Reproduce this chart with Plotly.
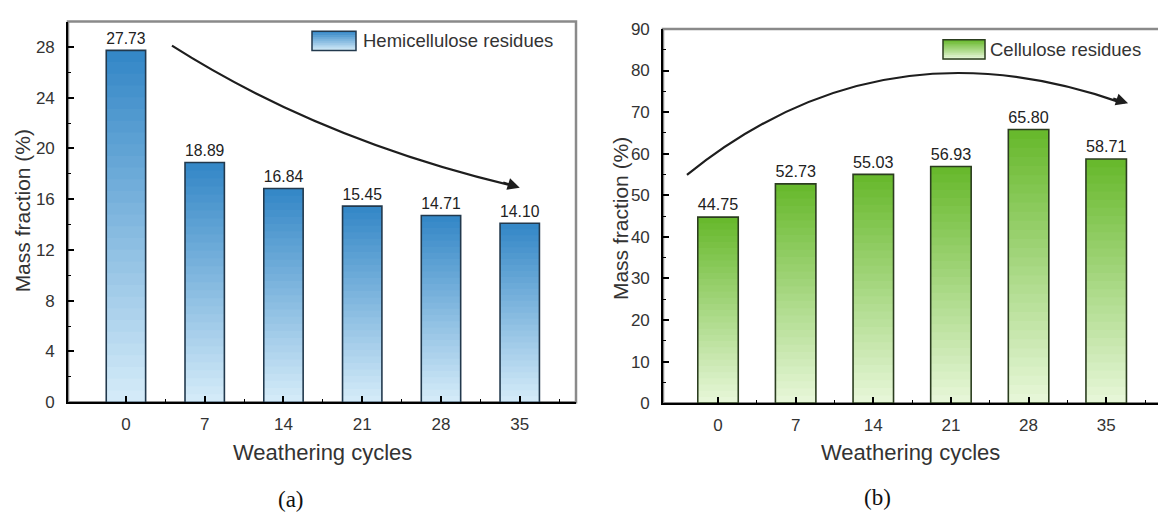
import plotly.graph_objects as go

# ---------------- data ----------------
cycles = [0, 7, 14, 21, 28, 35]
cycle_labels = ["0", "7", "14", "21", "28", "35"]
hemicellulose = [27.73, 18.89, 16.84, 15.45, 14.71, 14.10]
cellulose = [44.75, 52.73, 55.03, 56.93, 65.80, 58.71]
yticks_a = [0, 4, 8, 12, 16, 20, 24, 28]
yticks_b = [0, 10, 20, 30, 40, 50, 60, 70, 80, 90]
legend_a = "Hemicellulose residues"
legend_b = "Cellulose residues"

# ---------------- styling ----------------
W, H = 1158, 523
FONT = "Liberation Sans, Arial, sans-serif"
SERIF = "Liberation Serif, Times New Roman, serif"
TXT = "#333333"

BLUE_TOP = (50, 134, 198)
BLUE_BOT = (214, 236, 249)
BLUE_EDGE = "#22394d"
GREEN_TOP = (102, 184, 42)
GREEN_BOT = (232, 247, 218)
GREEN_EDGE = "#2b3d1f"
N_SEG = 30


def px(x):
    return x / W


def py(y):
    return 1 - y / H


def mix(c0, c1, t):
    return "rgb({},{},{})".format(*[round(a + (b - a) * t) for a, b in zip(c0, c1)])


fig = go.Figure()


def add_bars(values, xa, ya, bot, top, edge, width):
    # vertical gradient built from stacked (slightly overlapping) bar segments
    for k in range(N_SEG):
        t = (k + 0.5) / N_SEG
        seg = 1.0 if k == N_SEG - 1 else 1.8
        fig.add_trace(go.Bar(
            x=cycles, y=[v / N_SEG * seg for v in values],
            base=[v * k / N_SEG for v in values],
            width=width, marker=dict(color=mix(bot, top, t), line=dict(width=0)),
            xaxis=xa, yaxis=ya, showlegend=False, hoverinfo="skip"))
    fig.add_trace(go.Bar(
        x=cycles, y=values, width=width,
        marker=dict(color="rgba(0,0,0,0)", line=dict(color=edge, width=1.6)),
        text=[f"{v:.2f}" for v in values], textposition="outside",
        textfont=dict(family=FONT, size=18, color="#222222"),
        cliponaxis=False, xaxis=xa, yaxis=ya, showlegend=False))


add_bars(hemicellulose, "x", "y", BLUE_BOT, BLUE_TOP, BLUE_EDGE, 3.5)
add_bars(cellulose, "x2", "y2", GREEN_BOT, GREEN_TOP, GREEN_EDGE, 3.65)

minor_x = [(a + b) / 2 for a, b in zip(cycles[:-1], cycles[1:])] + [cycles[-1] + 3.5]

axis_common = dict(
    showline=True, linecolor="black", linewidth=1.6, mirror=False,
    ticks="inside", ticklen=6, tickwidth=1.5, tickcolor="black",
    showgrid=False, zeroline=False,
    tickfont=dict(family=FONT, size=17, color=TXT),
)

fig.update_layout(
    width=W, height=H,
    margin=dict(l=0, r=0, t=0, b=0),
    paper_bgcolor="white", plot_bgcolor="white",
    barmode="overlay", showlegend=False,
    xaxis=dict(domain=[px(68), px(576)], range=[-5.15, 40.0], anchor="y",
               tickvals=cycles, ticktext=cycle_labels, ticklabelstandoff=6,
               minor=dict(tickvals=minor_x, ticks="inside", ticklen=3, tickcolor="black", tickwidth=1.2),
               **axis_common),
    yaxis=dict(domain=[py(408), py(13)], range=[0, 30], anchor="x",
               tickvals=yticks_a, ticklabelstandoff=8,
               minor=dict(dtick=2, ticks="inside", ticklen=3, tickcolor="black", tickwidth=1.2),
               **axis_common),
    xaxis2=dict(domain=[px(663), 1.0], range=[-4.96, 39.67], anchor="y2",
                tickvals=cycles, ticktext=cycle_labels, ticklabelstandoff=6,
                minor=dict(tickvals=minor_x, ticks="inside", ticklen=3, tickcolor="black", tickwidth=1.2),
                **axis_common),
    yaxis2=dict(domain=[py(409), py(20.7)], range=[0, 90], anchor="x2",
                tickvals=yticks_b, ticklabelstandoff=8,
                minor=dict(dtick=5, ticks="inside", ticklen=3, tickcolor="black", tickwidth=1.2),
                **axis_common),
)

shapes = []
# gray frame (top / right borders)
shapes.append(dict(type="rect", xref="x domain", yref="y domain", x0=0, x1=1, y0=0, y1=1,
                   line=dict(color="#8a8a8a", width=2.5), layer="below"))
shapes.append(dict(type="rect", xref="x2 domain", yref="y2 domain", x0=0, x1=1.02, y0=0, y1=1,
                   line=dict(color="#8a8a8a", width=2.5), layer="below"))

# trend arrows (quadratic curves in data coordinates)
shapes.append(dict(type="path", xref="x", yref="y",
                   path="M 4.09,28.1 Q 17.2,20.7 34.2,17.1",
                   line=dict(color="#1e1e1e", width=2.2)))
shapes.append(dict(type="path", xref="x2", yref="y2",
                   path="M -2.80,54.9 Q 14.61,92.5 36.2,72.4",
                   line=dict(color="#1e1e1e", width=2.2)))


# manual legends with gradient swatches
def legend_swatch(x0, y0, x1, y1, bot, top, edge):
    n = 10
    h = (y1 - y0) / n
    for i in range(n):
        t = 1 - (i + 0.5) / n
        shapes.append(dict(type="rect", xref="paper", yref="paper",
                           x0=px(x0), x1=px(x1), y0=py(y0 + i * h), y1=py(y0 + (i + 1) * h + 0.6),
                           line=dict(width=0), fillcolor=mix(bot, top, t)))
    shapes.append(dict(type="rect", xref="paper", yref="paper",
                       x0=px(x0), x1=px(x1), y0=py(y0), y1=py(y1),
                       line=dict(color=edge, width=1.5)))


legend_swatch(312, 23, 356, 43, BLUE_BOT, BLUE_TOP, BLUE_EDGE)
legend_swatch(943, 32, 985, 52, GREEN_BOT, GREEN_TOP, GREEN_EDGE)

annotations = [
    dict(text=legend_a, x=px(361), y=py(33), xref="paper", yref="paper",
         xanchor="left", yanchor="middle", showarrow=False,
         font=dict(family=FONT, size=18.5, color=TXT)),
    dict(text=legend_b, x=px(988), y=py(42), xref="paper", yref="paper",
         xanchor="left", yanchor="middle", showarrow=False,
         font=dict(family=FONT, size=18.5, color=TXT)),
    # axis titles
    dict(text="Weathering cycles", x=px(322), y=py(460), xref="paper", yref="paper",
         xanchor="center", yanchor="middle", showarrow=False,
         font=dict(family=FONT, size=22, color=TXT)),
    dict(text="Weathering cycles", x=px(910), y=py(460), xref="paper", yref="paper",
         xanchor="center", yanchor="middle", showarrow=False,
         font=dict(family=FONT, size=22, color=TXT)),
    dict(text="Mass fraction (%)", x=px(22), y=py(210), xref="paper", yref="paper",
         xanchor="center", yanchor="middle", textangle=-90, showarrow=False,
         font=dict(family=FONT, size=21, color=TXT)),
    dict(text="Mass fraction (%)", x=px(620), y=py(218), xref="paper", yref="paper",
         xanchor="center", yanchor="middle", textangle=-90, showarrow=False,
         font=dict(family=FONT, size=21, color=TXT)),
    # panel labels
    dict(text="(a)", x=px(291), y=py(509), xref="paper", yref="paper",
         xanchor="center", yanchor="middle", showarrow=False,
         font=dict(family=SERIF, size=23, color="#111111")),
    dict(text="(b)", x=px(877), y=py(507), xref="paper", yref="paper",
         xanchor="center", yanchor="middle", showarrow=False,
         font=dict(family=SERIF, size=23, color="#111111")),
    # arrowheads
    dict(x=35.0, y=16.9, ax=33.4, ay=17.35, xref="x", yref="y", axref="x", ayref="y",
         text="", showarrow=True, arrowhead=2, arrowsize=1.1, arrowwidth=2.2, arrowcolor="#1e1e1e",
         standoff=0),
    dict(x=36.97, y=72.1, ax=35.5, ay=73.4, xref="x2", yref="y2", axref="x2", ayref="y2",
         text="", showarrow=True, arrowhead=2, arrowsize=1.1, arrowwidth=2.2, arrowcolor="#1e1e1e",
         standoff=0),
]

fig.update_layout(shapes=shapes, annotations=annotations)
fig.write_html("out.html")
